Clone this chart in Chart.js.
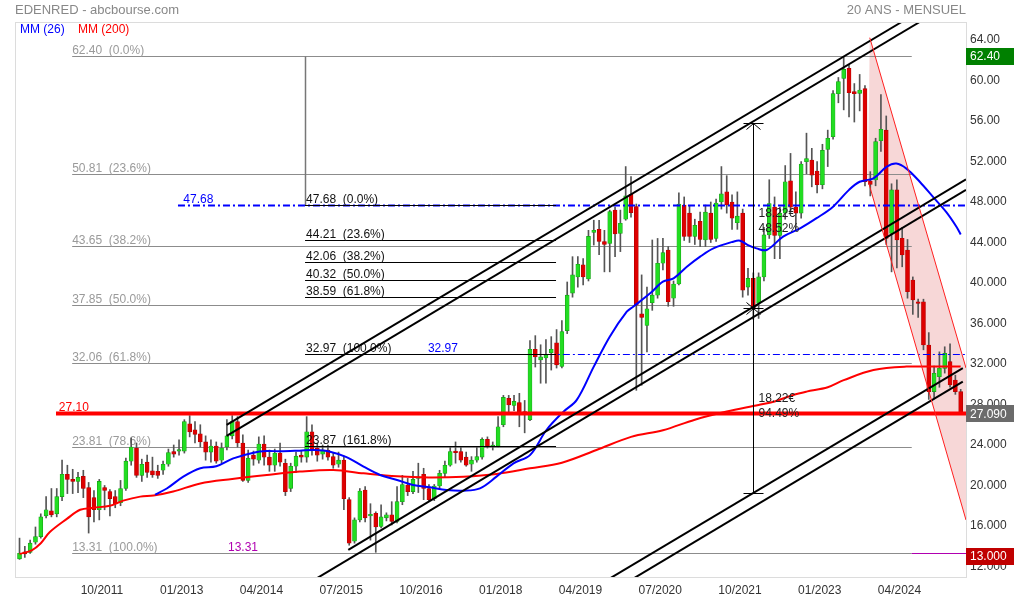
<!DOCTYPE html>
<html>
<head>
<meta charset="utf-8">
<title>EDENRED - 20 ANS - MENSUEL</title>
<script src="https://cdn.jsdelivr.net/npm/chart.js@4.4.1/dist/chart.umd.min.js"></script>
<style>
  html, body { margin: 0; padding: 0; background: #fff; }
  canvas { display: block; }
</style>
</head>
<body>
<canvas id="graph" width="1014" height="603"></canvas>
<script>
// bougies mensuelles, index 0 = 07/2010 ... index 177 = 04/2025
const opens = [
  12.75, 13.45, 13.4, 14.4, 14.95, 17.0, 17.5, 17.2, 18.9, 21.1,
  20.6, 20.4, 20.9, 19.8, 18.8, 17.6, 19.8, 19.4, 18.9, 18.3,
  19.7, 22.4, 23.7, 21.0, 22.3, 21.45, 21.4, 21.5, 22.1, 23.35,
  23.4, 23.4, 26.1, 25.5, 25.1, 24.3, 23.3, 23.9, 22.5, 23.8,
  24.9, 26.3, 24.2, 20.5, 23.0, 22.5, 24.1, 22.8, 22.0, 23.2,
  22.2, 19.7, 21.9, 23.0, 22.8, 25.3, 23.7, 23.1, 23.5, 22.85,
  22.1, 22.5, 18.6, 14.5, 16.6, 19.55, 17.0, 17.25, 15.95, 16.8,
  17.1, 16.45, 18.4, 20.05, 19.4, 20.7, 21.1, 19.7, 18.7, 19.95,
  21.2, 22.0, 23.4, 23.35, 22.8, 22.1, 22.5, 22.8, 24.55, 23.9,
  23.9, 26.0, 28.6, 27.9, 28.2, 27.3, 26.5, 33.45, 32.4, 32.6,
  33.1, 34.1, 31.75, 35.3, 39.0, 40.6, 41.8, 40.4, 45.0, 45.3,
  44.1, 43.9, 47.2, 44.9, 46.3, 48.75, 47.55, 36.95, 35.8, 38.05,
  38.8, 41.95, 43.25, 38.5, 39.9, 47.7, 46.9, 44.6, 46.1, 44.25,
  46.9, 44.4, 48.0, 49.0, 48.0, 45.96, 46.9, 39.6, 40.45, 38.0,
  40.6, 44.75, 47.5, 44.7, 46.9, 50.1, 47.5, 46.9, 51.98, 52.15,
  51.06, 49.7, 53.2, 54.45, 58.7, 60.2, 61.2, 58.9, 58.73, 59.2,
  50.07, 50.17, 54.06, 55.1, 44.9, 49.2, 44.41, 43.26, 40.3, 38.15,
  38.15, 33.88, 29.27, 30.75, 31.57, 32.23, 30.42, 29.27
];
const highs = [
  14.8, 14.0, 14.6, 15.9, 17.2, 18.9, 19.7, 19.7, 22.5, 22.0,
  21.6, 21.3, 21.5, 20.3, 19.5, 20.6, 20.0, 19.6, 19.5, 20.5,
  22.7, 24.7, 24.2, 22.6, 23.0, 22.8, 22.0, 22.4, 23.6, 24.0,
  24.5, 26.5, 26.9, 26.3, 26.0, 24.9, 24.5, 24.3, 24.2, 26.5,
  26.9, 26.8, 25.0, 23.5, 23.4, 24.8, 24.9, 23.5, 23.6, 24.2,
  22.6, 22.2, 23.3, 23.4, 26.8, 26.0, 24.2, 24.0, 24.0, 23.2,
  23.3, 22.9, 18.8, 16.8, 19.7, 19.9, 18.2, 17.4, 18.1, 17.3,
  18.4, 19.9, 21.0, 20.7, 21.4, 22.2, 21.7, 20.1, 20.1, 21.5,
  22.4, 23.8, 24.3, 23.8, 23.3, 22.85, 23.8, 24.7, 24.8, 24.3,
  26.8, 28.9, 28.9, 28.9, 29.1, 28.4, 34.3, 34.8, 33.9, 34.4,
  34.7, 35.4, 36.3, 40.1, 42.6, 42.6, 42.4, 45.2, 46.2, 46.2,
  45.2, 47.2, 47.5, 47.2, 51.5, 50.5, 47.8, 40.8, 39.6, 44.25,
  44.4, 44.4, 43.6, 40.2, 48.9, 48.5, 47.6, 46.3, 47.0, 47.7,
  48.0, 48.3, 51.5, 50.6, 48.7, 49.0, 47.3, 41.45, 41.0, 41.0,
  45.5, 50.2, 48.5, 47.5, 51.6, 52.8, 49.0, 52.0, 54.8, 53.3,
  52.0, 53.7, 55.1, 59.0, 60.3, 62.4, 61.6, 59.7, 60.6, 59.5,
  51.0, 54.3, 58.6, 56.5, 49.8, 50.2, 45.5, 44.3, 40.6, 38.4,
  38.4, 35.1, 31.8, 33.2, 33.7, 34.0, 30.9, 29.5
];
const lows = [
  12.7, 12.9, 13.3, 14.2, 14.8, 16.8, 16.9, 16.9, 18.5, 19.2,
  19.2, 19.3, 18.8, 15.3, 16.4, 16.6, 17.6, 17.0, 17.8, 18.0,
  19.5, 22.0, 20.8, 20.4, 20.8, 20.8, 20.7, 21.1, 21.9, 22.8,
  23.0, 23.2, 24.8, 24.2, 23.8, 22.5, 22.3, 22.2, 22.2, 23.5,
  24.6, 23.8, 20.4, 20.3, 22.0, 22.2, 22.0, 21.4, 21.4, 21.9,
  19.0, 19.4, 21.3, 22.3, 22.3, 23.0, 22.4, 22.6, 22.5, 21.7,
  21.8, 17.6, 14.1, 14.3, 16.4, 16.4, 14.6, 13.4, 15.8, 16.5,
  16.1, 16.3, 18.1, 19.0, 19.2, 19.3, 18.6, 18.4, 18.5, 19.7,
  20.8, 21.9, 22.2, 22.3, 21.9, 21.4, 22.3, 22.6, 23.7, 23.5,
  23.8, 25.8, 27.1, 27.4, 25.8, 25.2, 26.4, 31.7, 30.1, 30.1,
  31.4, 31.6, 31.6, 35.0, 38.6, 39.6, 39.8, 40.2, 43.75, 42.8,
  41.1, 41.1, 42.6, 43.1, 46.2, 46.5, 29.4, 29.9, 33.2, 37.3,
  38.5, 41.3, 37.7, 37.7, 39.8, 44.2, 44.0, 43.8, 43.6, 43.6,
  44.0, 44.1, 47.3, 46.9, 45.3, 45.3, 38.6, 38.8, 36.4, 36.5,
  40.2, 44.4, 42.4, 42.4, 46.3, 47.0, 45.4, 46.4, 50.8, 49.5,
  48.9, 49.3, 51.5, 54.2, 57.8, 57.1, 56.4, 55.9, 57.0, 49.6,
  48.6, 49.6, 53.0, 43.8, 41.1, 41.5, 41.6, 38.5, 36.9, 36.6,
  33.4, 28.5, 28.6, 29.7, 31.1, 29.7, 29.0, 27.0
];
const closes = [
  13.3, 13.25, 14.3, 14.95, 16.9, 17.6, 17.1, 18.9, 21.1, 20.6,
  20.4, 20.8, 19.7, 16.9, 17.6, 20.4, 19.5, 18.7, 18.2, 19.7,
  22.4, 23.8, 21.0, 22.1, 21.3, 21.05, 21.0, 22.1, 23.25, 23.1,
  23.55, 26.3, 25.3, 25.05, 24.3, 23.3, 23.9, 22.4, 23.7, 24.9,
  26.3, 24.2, 20.5, 22.7, 22.6, 24.1, 22.8, 22.0, 23.2, 22.3,
  19.4, 21.9, 22.9, 22.8, 25.3, 23.5, 23.0, 23.5, 22.8, 22.0,
  22.5, 18.7, 14.3, 16.6, 19.45, 16.8, 17.15, 15.9, 16.9, 17.1,
  16.45, 18.4, 20.1, 19.4, 20.6, 20.85, 19.7, 18.6, 19.95, 21.2,
  22.0, 23.35, 23.25, 22.5, 22.0, 22.5, 22.85, 24.55, 23.9, 24.0,
  25.8, 28.7, 27.95, 28.3, 27.1, 27.0, 33.45, 32.7, 32.7, 32.9,
  33.45, 31.9, 35.2, 38.8, 40.8, 41.85, 40.6, 44.6, 45.2, 44.1,
  43.8, 47.05, 44.85, 45.9, 48.6, 46.95, 37.8, 36.6, 37.45, 38.8,
  41.95, 43.0, 38.15, 39.9, 47.8, 44.6, 44.6, 45.7, 44.3, 47.0,
  44.3, 47.9, 48.8, 47.7, 46.4, 46.6, 39.3, 40.45, 37.5, 40.6,
  44.75, 47.85, 44.7, 46.9, 50.0, 47.5, 46.9, 51.75, 52.3, 50.66,
  49.7, 53.1, 54.3, 58.7, 59.9, 61.1, 58.8, 58.7, 59.06, 50.0,
  49.74, 53.96, 55.18, 44.41, 49.2, 44.25, 42.77, 39.14, 38.32, 37.99,
  33.88, 29.27, 31.08, 31.57, 33.05, 29.93, 29.27, 27.09
];

// moyennes mobiles (index du mois, valeur)
const mm26Idx = [25.5, 27.7, 30.8, 34, 37, 40.2, 44, 46.5, 49, 52.7, 55.5, 58.4, 61.5, 64.7, 67.8, 71, 74, 77.2, 80.3, 83.5,
  86.6, 89.7, 92.9, 96, 99.1, 102.3, 104.8, 108, 111, 114.2, 115.4, 118.6, 121, 123, 125.5, 128, 130.5, 134.2, 135.5, 137,
  138.6, 140.5, 143.6, 146.8, 149.9, 153, 156, 158, 160.6, 163.1, 164.9, 166.8, 169.3, 171.8, 174.3, 176.2, 177];
const mm26 = [19.1, 19.7, 20.87, 21.7, 21.9, 22.68, 23.24, 23.4, 23.38, 23.44, 23.5, 23.34, 22.8, 21.86, 21.04, 20.54, 20.05, 19.82, 19.56, 19.49,
  19.72, 20.87, 22.19, 23.0, 25.48, 27.29, 28.45, 31.74, 34.7, 37.17, 37.66, 38.98, 40.13, 40.46, 41.6, 42.6, 43.42, 44.08, 44.18, 43.75,
  43.42, 43.26, 44.58, 45.4, 46.4, 47.54, 49.2, 50.0, 50.34, 51.49, 51.8, 51.3, 50.0, 48.5, 47.0, 45.56, 44.8];

const mm200Idx = [0, 2.3, 4, 5.7, 8.9, 11.4, 13.9, 17, 19.5, 22.7, 25.2, 28.9, 34, 40, 46.5, 52.7, 59, 64.7, 71, 77,
  83.5, 89.7, 96, 102, 108.5, 115, 121, 127, 133, 139, 142, 145.5, 148, 152, 155, 160.6, 166.8, 173, 177];
const mm200 = [13.23, 13.6, 14.3, 15.4, 16.7, 17.6, 17.8, 18.0, 18.5, 18.9, 19.0, 19.4, 20.2, 20.64, 21.04, 21.37, 21.53, 21.2, 20.9, 20.8,
  20.87, 21.14, 21.7, 22.25, 23.5, 24.8, 25.45, 26.5, 27.3, 27.95, 28.3, 28.94, 29.27, 29.7, 30.4, 31.4, 31.74, 31.74, 31.74];

const xTickIdx = [15, 30, 45, 60, 75, 90, 105, 120, 135, 150, 165];
const xTickLabels = ['10/2011', '01/2013', '04/2014', '07/2015', '10/2016', '01/2018', '04/2019', '07/2020', '10/2021', '01/2023', '04/2024'];
const yTicks = [12, 16, 20, 24, 28, 32, 36, 40, 44, 48, 52, 56, 60, 64];

// retracements de Fibonacci
const fibGris = [62.40, 50.81, 43.65, 37.85, 32.06, 23.81, 13.31];
const fibGrisPct = ['0.0', '23.6', '38.2', '50.0', '61.8', '78.6', '100.0'];
const fibNoir = [47.68, 44.21, 42.06, 40.32, 38.59, 32.97, 23.87];
const fibNoirPct = ['0.0', '23.6', '38.2', '50.0', '61.8', '100.0', '161.8'];

// droites de canal [idx1, val1, idx2, val2]
const canaux = [
  [38.96, 25.98, 165.9, 65.78],
  [38.96, 24.89, 169.3, 65.78],
  [61.83, 13.63, 178, 50.24],
  [55, 10.55, 178, 49.19],
  [110, 10.5, 177.4, 31.6],
  [110, 9.1, 177.4, 30.25]
];
// canal baissier (rouge)
const canalBas = [[159.55, 50.17, 178, 16.59], [159.9, 64.23, 178, 31.6]];

const dernier = 27.09;
const plusHaut = 62.40;
const objectif = 13.0;

Chart.defaults.font.family = '"Liberation Sans", Arial, sans-serif';
Chart.defaults.font.size = 12;
Chart.defaults.color = '#333';

const up = closes.map((c, i) => c >= opens[i]);
const bodies = closes.map((c, i) => ({ x: i, y: [opens[i], c] }));
const wicks = closes.map((c, i) => ({ x: i, y: [lows[i], highs[i]] }));

const FONT = '12px "Liberation Sans", Arial, sans-serif';

function trait(ctx, x1, y1, x2, y2, color, w, dash) {
  ctx.beginPath();
  ctx.strokeStyle = color;
  ctx.lineWidth = w;
  ctx.setLineDash(dash || []);
  ctx.moveTo(x1, y1);
  ctx.lineTo(x2, y2);
  ctx.stroke();
  ctx.setLineDash([]);
}

function texte(ctx, t, x, y, color, align) {
  ctx.font = FONT;
  ctx.fillStyle = color;
  ctx.textAlign = align || 'left';
  ctx.textBaseline = 'alphabetic';
  ctx.fillText(t, x, y);
}

const dessins = {
  id: 'dessins',
  beforeDatasetsDraw(chart) {
    const { ctx, chartArea: a, scales: { x, y } } = chart;
    const X = v => x.getPixelForValue(v), Y = v => Math.round(y.getPixelForValue(v)) + 0.5;
    ctx.save();
    ctx.beginPath();
    ctx.rect(a.left, a.top, a.right - a.left, a.bottom - a.top);
    ctx.clip();

    // zone du canal baissier
    const [g, d] = canalBas;
    ctx.beginPath();
    ctx.moveTo(X(d[0]), y.getPixelForValue(d[1]));
    ctx.lineTo(X(d[2]), y.getPixelForValue(d[3]));
    ctx.lineTo(X(g[2]), y.getPixelForValue(g[3]));
    ctx.lineTo(X(g[0]), y.getPixelForValue(g[1]));
    ctx.closePath();
    ctx.fillStyle = 'rgba(225, 110, 110, 0.28)';
    ctx.fill();

    // Fibonacci gris
    fibGris.forEach((v, k) => {
      trait(ctx, X(9.9), Y(v), X(167.8), Y(v), '#8c8c8c', 1);
      texte(ctx, v.toFixed(2) + '  (' + fibGrisPct[k] + '%)', X(9.9), Y(v) - 2.5, '#9a9a9a');
    });
    trait(ctx, X(167.8), Y(13.31), a.right, Y(13.31), '#b000b0', 1);
    texte(ctx, '13.31', X(39.2), Y(13.31) - 2.5, '#b000b0');
    trait(ctx, Math.round(X(53.7)) + 0.5, Y(62.40), Math.round(X(53.7)) + 0.5, Y(47.68), '#777', 1.5);
    ctx.restore();
  },
  afterDatasetsDraw(chart) {
    const { ctx, chartArea: a, scales: { x, y } } = chart;
    const X = v => x.getPixelForValue(v), Y = v => Math.round(y.getPixelForValue(v)) + 0.5;
    ctx.save();
    ctx.beginPath();
    ctx.rect(a.left, a.top, a.right - a.left, a.bottom - a.top);
    ctx.clip();

    // lignes bleues pointillees
    trait(ctx, X(29.8), Y(47.68), a.right, Y(47.68), '#0000ff', 2, [7, 3, 2, 3]);
    texte(ctx, '47.68', X(30.8), Y(47.68) - 3, '#0000ff');
    trait(ctx, X(76.8), Y(32.97), a.right, Y(32.97), '#0000ff', 1, [7, 3, 2, 3]);
    texte(ctx, '32.97', X(76.8), Y(32.97) - 2.5, '#0000ff');

    // Fibonacci noir
    fibNoir.forEach((v, k) => {
      trait(ctx, X(53.7), Y(v), X(100.9), Y(v), '#000', 1);
      texte(ctx, v.toFixed(2) + '  (' + fibNoirPct[k] + '%)', X(53.7) + 1, Y(v) - 2.5, '#111');
    });

    // support rouge
    trait(ctx, X(6.86), y.getPixelForValue(27.10), a.right, y.getPixelForValue(27.10), '#ff0000', 4);
    texte(ctx, '27.10', X(7.4), y.getPixelForValue(27.10) - 3, '#ff0000');

    // canaux haussiers
    canaux.forEach(c => trait(ctx, X(c[0]), y.getPixelForValue(c[1]), X(c[2]), y.getPixelForValue(c[3]), '#000', 2));

    // canal baissier
    canalBas.forEach(c => trait(ctx, X(c[0]), y.getPixelForValue(c[1]), X(c[2]), y.getPixelForValue(c[3]), '#ff2020', 1));

    // mesure verticale
    const mx = Math.round(X(137.87)) + 0.5;
    const yh = Y(55.77), ym = Y(37.55), yb = Y(19.28);
    trait(ctx, mx, yh, mx, yb, '#000', 1);
    trait(ctx, mx - 10, yh, mx + 10, yh, '#000', 1);
    trait(ctx, mx, yh, mx - 7, yh + 6, '#000', 1);
    trait(ctx, mx, yh, mx + 7, yh + 6, '#000', 1);
    trait(ctx, mx - 10, ym, mx + 10, ym, '#000', 1);
    trait(ctx, mx, ym, mx - 7, ym + 6, '#000', 1);
    trait(ctx, mx, ym, mx + 7, ym + 6, '#000', 1);
    trait(ctx, mx, ym, mx - 7, ym - 6, '#000', 1);
    trait(ctx, mx, ym, mx + 7, ym - 6, '#000', 1);
    trait(ctx, mx - 10, yb, mx + 10, yb, '#000', 1);
    texte(ctx, '18.22€', mx + 5, y.getPixelForValue(46.52), '#222');
    texte(ctx, '48.52%', mx + 5, y.getPixelForValue(45.04), '#222');
    texte(ctx, '18.22€', mx + 5, y.getPixelForValue(28.25), '#222');
    texte(ctx, '94.49%', mx + 5, y.getPixelForValue(26.77), '#222');
    ctx.restore();
  },
  afterDraw(chart) {
    const { ctx, chartArea: a, scales: { y } } = chart;
    ctx.save();
    ctx.strokeStyle = '#dcdcdc';
    ctx.lineWidth = 1;
    ctx.strokeRect(a.left + 0.5, a.top + 0.5, a.right - a.left, a.bottom - a.top);

    ctx.font = '13px "Liberation Sans", Arial, sans-serif';
    ctx.fillStyle = '#888';
    ctx.textBaseline = 'alphabetic';
    ctx.textAlign = 'left';
    ctx.fillText('EDENRED - abcbourse.com', 15, 14);
    ctx.textAlign = 'right';
    ctx.fillText('20 ANS - MENSUEL', a.right, 14);

    texte(ctx, 'MM (26)', 20, 33, '#0000ff');
    texte(ctx, 'MM (200)', 78, 33, '#ff0000');

    // etiquettes de prix a droite
    const boite = (v, txt, fond) => {
      const yy = y.getPixelForValue(v);
      ctx.fillStyle = fond;
      ctx.fillRect(a.right, Math.round(yy - 8.5), 1014 - a.right, 17);
      ctx.font = FONT;
      ctx.fillStyle = '#fff';
      ctx.textAlign = 'left';
      ctx.textBaseline = 'middle';
      ctx.fillText(txt, a.right + 4, Math.round(yy) + 0.5);
    };
    boite(plusHaut, plusHaut.toFixed(2), '#008000');
    boite(dernier, dernier.toFixed(3), '#6b6b6b');
    boite(objectif, objectif.toFixed(3), '#c00000');
    ctx.restore();
  }
};

new Chart(document.getElementById('graph'), {
  type: 'bar',
  data: {
    datasets: [
      {
        type: 'line', label: 'MM (26)',
        data: mm26Idx.map((v, k) => ({ x: v, y: mm26[k] })),
        borderColor: '#0000ff', borderWidth: 2, pointRadius: 0, tension: 0.35, order: 1
      },
      {
        type: 'line', label: 'MM (200)',
        data: mm200Idx.map((v, k) => ({ x: v, y: mm200[k] })),
        borderColor: '#ff0000', borderWidth: 2, pointRadius: 0, tension: 0.35, order: 2
      },
      {
        label: 'corps', data: bodies,
        backgroundColor: up.map(u => u ? '#22dd22' : '#dd0000'),
        borderColor: up.map(u => u ? '#149a14' : '#b00000'),
        borderWidth: 0.6, borderSkipped: false,
        barThickness: 4, grouped: false, order: 3
      },
      {
        label: 'meches', data: wicks,
        backgroundColor: '#555', barThickness: 1, grouped: false, order: 4
      }
    ]
  },
  options: {
    responsive: false,
    animation: false,
    devicePixelRatio: 1,
    layout: { padding: { left: 15, top: 22, right: 0, bottom: 0 } },
    plugins: { legend: { display: false }, tooltip: { enabled: false } },
    scales: {
      x: {
        type: 'linear', min: -0.85, max: 178, offset: false,
        grid: { display: false, drawTicks: false }, border: { display: false },
        afterBuildTicks: ax => { ax.ticks = xTickIdx.map(v => ({ value: v + 0.5 })); },
        afterFit: ax => { ax.height = 26; },
        ticks: {
          autoSkip: false, maxRotation: 0, padding: 6, color: '#333',
          callback: v => xTickLabels[xTickIdx.indexOf(v - 0.5)]
        }
      },
      y: {
        position: 'right', min: 10.96, max: 65.78,
        grid: { display: false, drawTicks: false }, border: { display: false },
        afterBuildTicks: ax => { ax.ticks = yTicks.map(v => ({ value: v })); },
        afterFit: ax => { ax.width = 48; },
        ticks: { padding: 4, color: '#333', callback: v => v >= 54 ? v.toFixed(2) : v.toFixed(3) }
      }
    }
  },
  plugins: [dessins]
});
</script>
</body>
</html>
